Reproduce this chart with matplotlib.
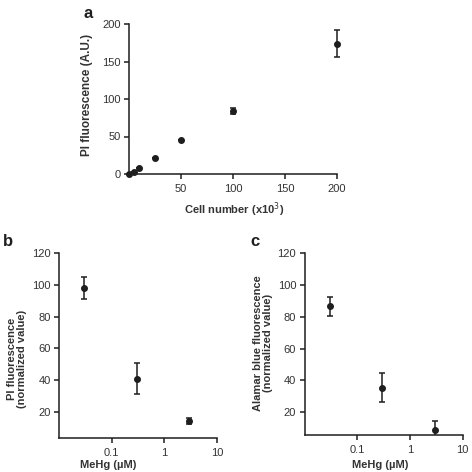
import matplotlib
matplotlib.use("Agg")
import matplotlib.pyplot as plt
import numpy as np

plt.rcParams['font.family'] = ['Liberation Sans', 'DejaVu Sans']

# panel a: PI fluorescence vs cell number
cells = [0, 5, 10, 25, 50, 100, 200]
pi_au = [0, 3, 8.5, 22, 45, 84, 174]
pi_au_err = [0, 0, 0, 0, 0, 3.5, 18]

# panel b / c: MeHg dose response
mehg = [0.03, 0.3, 3]
pi_norm = [98, 41, 14]
pi_norm_err = [7, 10, 1.8]
alamar = [86.5, 35.3, 8.8]
alamar_err = [6, 9, 5.5]

ink = '#1e1e1e'
W = 472.0

def px_axes(fig, left, right, top, bottom):
    return fig.add_axes([left / W, (W - bottom) / W, (right - left) / W, (bottom - top) / W])

def style(ax):
    for s in ['top', 'right']:
        ax.spines[s].set_visible(False)
    for s in ['left', 'bottom']:
        ax.spines[s].set_linewidth(1.1)
        ax.spines[s].set_color(ink)
    ax.tick_params(direction='out', length=3.5, width=1.1, colors=ink,
                   labelsize=8, labelcolor='#333333')
    ax.tick_params(axis='x', pad=4)
    ax.tick_params(axis='y', pad=2.5)
    ax.tick_params(which='minor', length=0)

fig = plt.figure(figsize=(4.72, 4.72), dpi=100)

# ---- a
ax = px_axes(fig, 129, 337, 24, 174)
style(ax)
ax.errorbar(cells, pi_au, yerr=pi_au_err, fmt='o', color=ink, ms=4,
            capsize=2.5, elinewidth=1.1, capthick=1.1, clip_on=False, zorder=5)
ax.set_xlim(0, 200)
ax.set_ylim(0, 200)
ax.set_xticks([50, 100, 150, 200])
ax.set_yticks([0, 50, 100, 150, 200])
ax.set_xlabel('Cell number (x10$^{3}$)', fontsize=8, fontweight='bold', color='#333333')
ax.set_ylabel('PI fluorescence (A.U.)', fontsize=8.5, fontweight='bold', color='#333333')
ax.xaxis.set_label_coords(0.505, -0.175)
ax.yaxis.set_label_coords(-0.175, 0.53)

# ---- b
bx = px_axes(fig, 59, 217, 253.3, 438)
style(bx)
bx.set_xscale('log')
bx.errorbar(mehg, pi_norm, yerr=pi_norm_err, fmt='o', color=ink, ms=4,
            capsize=2.5, elinewidth=1.1, capthick=1.1, zorder=5)
bx.set_xlim(0.01, 10)
bx.set_ylim(3.5, 120)
bx.set_xticks([0.1, 1, 10])
bx.set_xticklabels(['0.1', '1', '10'])
bx.set_yticks([20, 40, 60, 80, 100, 120])
bx.set_xlabel('MeHg (\u00b5M)', fontsize=8, fontweight='bold', color='#333333')
bx.set_ylabel('PI fluorescence\n(normalized value)', fontsize=8, fontweight='bold',
              color='#333333', linespacing=1.1)
bx.xaxis.set_label_coords(0.31, -0.119)
bx.yaxis.set_label_coords(-0.2, 0.43)

# ---- c
cx = px_axes(fig, 304.5, 462.7, 253.3, 435)
style(cx)
cx.set_xscale('log')
cx.errorbar(mehg, alamar, yerr=alamar_err, fmt='o', color=ink, ms=4,
            capsize=2.5, elinewidth=1.1, capthick=1.1, zorder=5)
cx.set_xlim(0.01, 10)
cx.set_ylim(5.5, 120)
cx.set_xticks([0.1, 1, 10])
cx.set_xticklabels(['0.1', '1', '10'])
cx.set_yticks([20, 40, 60, 80, 100, 120])
cx.set_xlabel('MeHg (\u00b5M)', fontsize=8, fontweight='bold', color='#333333')
cx.set_ylabel('Alamar blue fluorescence\n(normalized value)', fontsize=8, fontweight='bold',
              color='#333333', linespacing=1.1)
cx.xaxis.set_label_coords(0.48, -0.138)
cx.yaxis.set_label_coords(-0.197, 0.508)

# panel letters
for lab, x, y in [('a', 88, 14), ('b', 8, 241), ('c', 255, 242)]:
    fig.text(x / W, 1 - y / W, lab, fontsize=12, fontweight='bold', color=ink,
             ha='center', va='center')

fig.savefig('out.png', dpi=100)
